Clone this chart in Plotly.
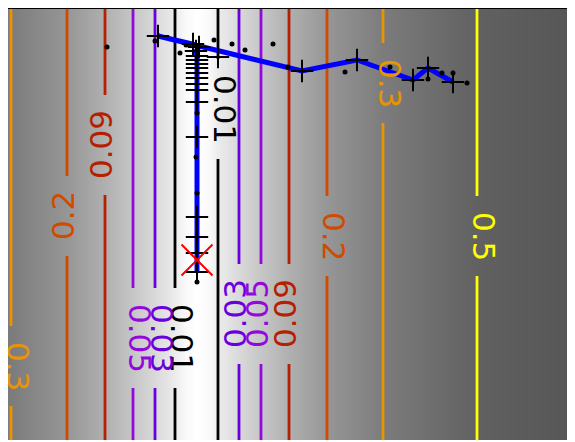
import plotly.graph_objects as go

# ---- data ----
levels = [0.01, 0.03, 0.05, 0.09, 0.2, 0.3, 0.5]
level_colors = ["rgb(0,0,0)", "rgb(104,1,221)", "rgb(147,9,221)", "rgb(180,32,0)",
                "rgb(208,75,0)", "rgb(233,148,0)", "rgb(255,255,0)"]

# contour line positions left / right of the valley
left_x = [-0.22, -0.42, -0.64, -0.92, -1.30, -1.86, None]
right_x = [0.21, 0.42, 0.64, 0.92, 1.30, 1.86, 2.80]
# inline label positions along each line and their orientation
left_label_y = [1.02, 1.02, 1.02, 2.95, 2.24, 0.74, None]
right_label_y = [3.31, 1.26, 1.26, 1.26, 2.04, 3.57, 2.04]
left_label_angle = [90, 90, 90, -90, -90, 90, None]
right_label_angle = [90, -90, -90, -90, 90, 90, 90]

# background shading samples (gray level across x)
bg_x = [-1.95, -1.86, -1.30, -0.92, -0.64, -0.42, -0.22, -0.11, 0.0, 0.11,
        0.21, 0.42, 0.64, 0.92, 1.30, 1.86, 2.80, 3.90]
bg_gray = [120, 124, 150, 176, 198, 217, 236, 250, 255, 250,
           236, 217, 198, 176, 150, 124, 97, 84]

# optimisation path (iterates)
path_x = [2.56, 2.31, 2.16, 1.60, 1.05, -0.39, -0.04, 0.02, -0.01, 0.0, 0.0, 0.0,
          0.0, 0.0, 0.0, 0.0, 0.0, 0.0, 0.0, 0.0, 0.0, 0.0, 0.0]
path_y = [3.58, 3.72, 3.60, 3.80, 3.69, 4.04, 3.96, 3.93, 3.89, 3.84, 3.80, 3.76,
          3.72, 3.67, 3.62, 3.56, 3.50, 3.38, 3.03, 2.23, 2.03, 1.87, 1.68]
extra_x = [0.21]
extra_y = [3.83]

# sampled points
dots_x = [-0.90, -0.42, -0.17, -0.11, 0.17, 0.35, 0.48, 0.76, 0.91, 1.48, 1.93,
          2.31, 2.45, 2.56, 2.70, 0.0, -0.01, 0.0, 0.0]
dots_y = [3.93, 3.99, 3.87, 3.95, 4.00, 3.96, 3.90, 3.96, 3.73, 3.68, 3.73,
          3.61, 3.67, 3.67, 3.57, 3.27, 2.83, 2.47, 1.58]

# optimum
opt_x = [0.0]
opt_y = [1.80]

X_RANGE = [-1.89, 3.86]
Y_RANGE = [0.0, 4.31]
FONT_SIZE = 31

fig = go.Figure()

fig.add_trace(go.Heatmap(
    x=bg_x, y=[Y_RANGE[0] - 0.1, Y_RANGE[1] + 0.1], z=[bg_gray, bg_gray],
    colorscale=[[0, "rgb(0,0,0)"], [1, "rgb(255,255,255)"]],
    zmin=0, zmax=255, zsmooth="best", showscale=False, hoverinfo="skip"))

annotations = []


def add_level_line(xpos, label_y, angle, lev, color):
    text = f"{lev:g}"
    half = 0.1 * len(text) + 0.1
    top = Y_RANGE[1] + 0.05
    bot = Y_RANGE[0] - 0.05
    fig.add_trace(go.Scatter(
        x=[xpos, xpos, None, xpos, xpos],
        y=[top, label_y + half, None, label_y - half, bot],
        mode="lines", line=dict(color=color, width=2.8),
        showlegend=False, hoverinfo="skip"))
    annotations.append(dict(
        x=xpos, y=label_y, xref="x", yref="y", text=text, showarrow=False,
        textangle=angle, xshift=(7 if angle == 90 else -4),
        font=dict(family="DejaVu Sans", size=FONT_SIZE, color=color)))


for i, lev in enumerate(levels):
    if left_x[i] is not None:
        add_level_line(left_x[i], left_label_y[i], left_label_angle[i], lev, level_colors[i])
    add_level_line(right_x[i], right_label_y[i], right_label_angle[i], lev, level_colors[i])

fig.add_trace(go.Scatter(
    x=path_x, y=path_y, mode="lines+markers",
    line=dict(color="rgb(0,0,255)", width=5),
    marker=dict(symbol="cross-thin", size=16, line=dict(color="black", width=2)),
    showlegend=False, hoverinfo="skip"))
fig.add_trace(go.Scatter(
    x=extra_x, y=extra_y, mode="markers",
    marker=dict(symbol="cross-thin", size=16, line=dict(color="black", width=2)),
    showlegend=False, hoverinfo="skip"))
fig.add_trace(go.Scatter(
    x=dots_x, y=dots_y, mode="markers",
    marker=dict(symbol="circle", size=5, color="black"),
    showlegend=False, hoverinfo="skip"))
fig.add_trace(go.Scatter(
    x=opt_x, y=opt_y, mode="markers",
    marker=dict(symbol="x-thin", size=31, line=dict(color="red", width=2)),
    showlegend=False, hoverinfo="skip"))

fig.update_layout(
    width=575, height=442,
    margin=dict(l=0, r=0, t=1, b=10),
    paper_bgcolor="white", plot_bgcolor="white",
    annotations=annotations,
    xaxis=dict(range=X_RANGE, showgrid=False, zeroline=False, showticklabels=False,
               ticks="", side="top", showline=True, linecolor="black", linewidth=2),
    yaxis=dict(range=Y_RANGE, showgrid=False, zeroline=False, showticklabels=False,
               ticks="", showline=True, linecolor="black", linewidth=2),
)

fig.write_html("out.html")
